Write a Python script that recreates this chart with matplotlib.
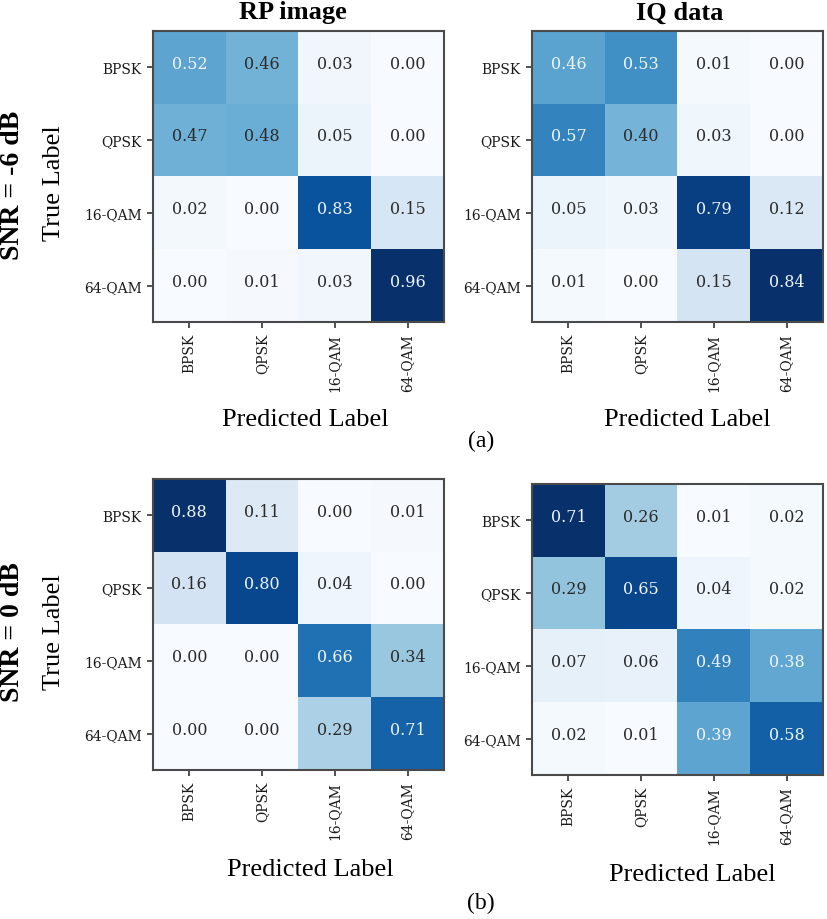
import matplotlib
matplotlib.use("Agg")
import matplotlib.pyplot as plt
import numpy as np

# class names and confusion matrices
classes = ['BPSK', 'QPSK', '16-QAM', '64-QAM']

rp_m6 = [[0.52, 0.46, 0.03, 0.00],
         [0.47, 0.48, 0.05, 0.00],
         [0.02, 0.00, 0.83, 0.15],
         [0.00, 0.01, 0.03, 0.96]]
iq_m6 = [[0.46, 0.53, 0.01, 0.00],
         [0.57, 0.40, 0.03, 0.00],
         [0.05, 0.03, 0.79, 0.12],
         [0.01, 0.00, 0.15, 0.84]]
rp_0 = [[0.88, 0.11, 0.00, 0.01],
        [0.16, 0.80, 0.04, 0.00],
        [0.00, 0.00, 0.66, 0.34],
        [0.00, 0.00, 0.29, 0.71]]
iq_0 = [[0.71, 0.26, 0.01, 0.02],
        [0.29, 0.65, 0.04, 0.02],
        [0.07, 0.06, 0.49, 0.38],
        [0.02, 0.01, 0.39, 0.58]]

W, H = 827, 920
fig = plt.figure(figsize=(W / 100, H / 100), dpi=100)

times = 'Liberation Serif'
tickfont = 'DejaVu Serif'


def px_axes(x0, y0, x1, y1):
    # pixel box (top-left origin) -> figure fraction
    return fig.add_axes([x0 / W, 1 - y1 / H, (x1 - x0) / W, (y1 - y0) / H])


def ftext(x, y, s, **kw):
    fig.text(x / W, 1 - y / H, s, **kw)


def plot_cm(ax, cm):
    cm = np.array(cm)
    ax.imshow(cm, cmap='Blues', interpolation='nearest', aspect='auto')
    thresh = cm.max() / 2.
    for i in range(cm.shape[0]):
        for j in range(cm.shape[1]):
            ax.text(j, i - 0.06, f'{cm[i, j]:.2f}', ha='center', va='center',
                    fontsize=11.5, family=tickfont,
                    color='#eef4fa' if cm[i, j] > thresh else '#2b2b2b')
    ax.set_xticks(range(len(classes)))
    ax.set_yticks(range(len(classes)))
    ax.set_xticklabels(classes, rotation=90, fontsize=10, family=tickfont, color='#1a1a1a')
    ax.set_yticklabels(classes, fontsize=10, family=tickfont, color='#1a1a1a')
    ax.tick_params(length=4, width=1.2, color='#333333', pad=4)
    for sp in ax.spines.values():
        sp.set_color('#4a4a4a')
        sp.set_linewidth(1.5)


boxes = [(153, 32, 444, 323), (532, 32, 823, 323),
         (153, 480, 444, 771), (532, 485, 823, 776)]
mats = [rp_m6, iq_m6, rp_0, iq_0]
for box, cm in zip(boxes, mats):
    plot_cm(px_axes(*box), cm)

# titles
ftext(293, 13, 'RP image', ha='center', va='center', fontsize=19, fontweight='bold', family=times)
ftext(680, 13, 'IQ data', ha='center', va='center', fontsize=19, fontweight='bold', family=times)

# row labels
ftext(13, 185, 'SNR = -6 dB', ha='center', va='center', rotation=90, fontsize=20, fontweight='bold', family=times)
ftext(13, 632, 'SNR = 0 dB', ha='center', va='center', rotation=90, fontsize=20, fontweight='bold', family=times)
ftext(54, 183, 'True Label', ha='center', va='center', rotation=90, fontsize=19, family=times)
ftext(54, 632, 'True Label', ha='center', va='center', rotation=90, fontsize=19, family=times)

# x labels
ftext(305, 420, 'Predicted Label', ha='center', va='center', fontsize=19, family=times)
ftext(687, 420, 'Predicted Label', ha='center', va='center', fontsize=19, family=times)
ftext(310, 870, 'Predicted Label', ha='center', va='center', fontsize=19, family=times)
ftext(692, 875, 'Predicted Label', ha='center', va='center', fontsize=19, family=times)

# panel tags
ftext(481, 441, '(a)', ha='center', va='center', fontsize=17, family=times)
ftext(481, 903, '(b)', ha='center', va='center', fontsize=17, family=times)

fig.savefig('out.png', dpi=100)
